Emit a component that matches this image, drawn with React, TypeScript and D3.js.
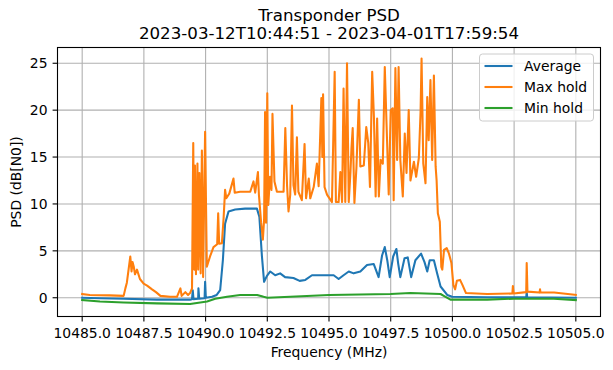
import * as d3 from 'd3'

// Frequency (MHz) / PSD (dB[N0]) pairs
const avgPoints: [number, number][] = [
  [10485.0, 0.0], [10485.72, -0.05], [10486.68, -0.1], [10488.03, -0.2], [10489.37, -0.2],
  [10489.45, -0.15], [10489.48, 0.8], [10489.51, -0.15], [10489.7, -0.1], [10489.71, 1.0],
  [10489.74, -0.1], [10489.96, -0.05], [10489.98, 1.7], [10490.01, 0.0], [10490.26, 0.1],
  [10490.45, 0.3], [10490.59, 0.8], [10490.7, 4.0], [10490.79, 7.9], [10490.93, 9.2],
  [10491.2, 9.4], [10491.6, 9.5], [10492.08, 9.5], [10492.18, 8.6], [10492.28, 4.5],
  [10492.37, 1.7], [10492.48, 2.3], [10492.62, 2.8], [10492.82, 2.4], [10493.02, 2.6],
  [10493.22, 2.2], [10493.56, 2.1], [10493.81, 1.8], [10494.04, 1.9], [10494.31, 2.4],
  [10494.92, 2.4], [10495.19, 2.4], [10495.39, 2.0], [10495.59, 2.4], [10495.8, 2.8],
  [10496.0, 2.6], [10496.27, 2.8], [10496.54, 3.5], [10496.81, 3.6], [10497.01, 2.2],
  [10497.15, 4.5], [10497.26, 5.4], [10497.36, 4.0], [10497.46, 2.2], [10497.6, 4.4],
  [10497.73, 5.2], [10497.8, 3.7], [10497.89, 2.2], [10498.06, 4.2], [10498.19, 4.3],
  [10498.33, 2.2], [10498.5, 4.0], [10498.73, 4.7], [10498.87, 3.8], [10498.98, 2.8],
  [10499.08, 4.0], [10499.25, 4.0], [10499.38, 2.6], [10499.52, 1.2], [10499.79, 0.3],
  [10499.99, 0.1], [10501.41, 0.05], [10502.99, 0.05], [10503.01, 0.6], [10503.03, 0.05],
  [10505.0, 0.0],
]

const maxPoints: [number, number][] = [
  [10485.0, 0.4], [10485.31, 0.3], [10486.12, 0.25], [10486.68, 0.2], [10486.75, 1.0],
  [10486.81, 1.6], [10486.95, 4.4], [10487.0, 2.8], [10487.04, 3.8], [10487.09, 3.3],
  [10487.14, 2.5], [10487.22, 3.0], [10487.34, 2.0], [10487.49, 1.5], [10487.63, 1.3],
  [10487.83, 0.9], [10487.99, 0.6], [10488.17, 0.2], [10488.56, 0.1], [10488.84, 0.1],
  [10488.98, 1.0], [10489.03, 0.2], [10489.18, 0.6], [10489.29, 0.3], [10489.37, 0.5],
  [10489.45, 1.0], [10489.5, 16.5], [10489.54, 3.0], [10489.57, 14.1], [10489.61, 2.5],
  [10489.67, 14.3], [10489.7, 3.0], [10489.75, 13.3], [10489.8, 2.6], [10489.85, 15.7],
  [10489.9, 2.2], [10489.98, 17.7], [10490.05, 3.3], [10490.18, 4.4], [10490.32, 5.4],
  [10490.47, 5.7], [10490.51, 9.0], [10490.55, 5.75], [10490.66, 5.8], [10490.73, 8.5],
  [10490.79, 11.5], [10490.84, 10.6],
  [10490.91, 10.9], [10490.96, 11.1], [10491.13, 12.7], [10491.18, 11.2], [10491.4, 11.3],
  [10491.81, 11.3], [10491.94, 12.4], [10492.01, 11.2], [10492.12, 13.4], [10492.16, 11.0],
  [10492.25, 8.0], [10492.32, 6.2], [10492.37, 8.3], [10492.41, 19.8], [10492.45, 8.0],
  [10492.5, 21.8], [10492.54, 9.9], [10492.61, 12.9], [10492.67, 11.5], [10492.71, 19.6],
  [10492.79, 12.4], [10492.89, 11.3], [10493.16, 11.3], [10493.23, 18.1], [10493.3, 12.0],
  [10493.36, 9.2], [10493.43, 11.0], [10493.5, 20.5], [10493.56, 12.0], [10493.63, 11.0],
  [10493.7, 17.1], [10493.76, 11.3], [10493.9, 10.4], [10494.01, 16.4], [10494.07, 10.6],
  [10494.18, 12.7], [10494.24, 10.6], [10494.38, 11.8], [10494.51, 14.3], [10494.58, 11.9],
  [10494.69, 21.3], [10494.73, 15.0], [10494.76, 21.7], [10494.82, 11.8], [10494.92, 11.0],
  [10495.12, 10.2], [10495.23, 24.1], [10495.28, 10.2], [10495.39, 10.2], [10495.46, 13.4],
  [10495.53, 10.2], [10495.59, 22.3], [10495.66, 10.2], [10495.73, 25.0], [10495.8, 10.2],
  [10495.87, 13.4], [10495.91, 15.9], [10495.96, 18.1], [10496.03, 10.1], [10496.11, 13.8],
  [10496.21, 21.1], [10496.27, 14.0], [10496.41, 14.1], [10496.51, 18.2], [10496.59, 16.5],
  [10496.66, 11.8], [10496.75, 24.1], [10496.82, 19.3], [10496.89, 10.8], [10496.95, 19.1],
  [10497.02, 10.8], [10497.09, 14.7], [10497.18, 14.3], [10497.26, 24.6], [10497.36, 16.1],
  [10497.42, 11.0], [10497.5, 20.0], [10497.58, 20.2], [10497.62, 10.4], [10497.69, 24.5],
  [10497.76, 14.7], [10497.82, 24.6], [10497.89, 14.7], [10497.99, 10.8], [10498.07, 17.5],
  [10498.14, 13.3], [10498.23, 20.0], [10498.3, 12.5], [10498.44, 14.5], [10498.53, 12.9],
  [10498.64, 14.9], [10498.71, 19.8], [10498.75, 25.5], [10498.82, 14.3], [10498.91, 12.2],
  [10498.98, 21.4], [10499.04, 16.8], [10499.11, 23.2], [10499.18, 14.7], [10499.25, 23.7],
  [10499.32, 14.0], [10499.36, 12.5], [10499.41, 9.0], [10499.49, 8.1], [10499.55, 3.3],
  [10499.59, 3.0], [10499.66, 5.1], [10499.77, 5.3], [10499.86, 4.7], [10499.96, 3.7],
  [10500.04, 1.35], [10500.11, 0.9], [10500.18, 1.8], [10500.31, 1.9], [10500.41, 1.35],
  [10500.55, 0.5], [10501.41, 0.4], [10502.43, 0.45], [10502.45, 1.25], [10502.48, 0.45],
  [10502.99, 0.6], [10503.01, 3.7], [10503.04, 0.65], [10503.53, 0.55], [10503.55, 0.9],
  [10503.57, 0.55], [10504.12, 0.55], [10505.0, 0.3],
]

const minPoints: [number, number][] = [
  [10485.0, -0.25], [10485.72, -0.4], [10486.68, -0.5], [10488.03, -0.6], [10489.37, -0.67],
  [10490.06, -0.4], [10490.39, -0.1], [10490.87, 0.1], [10491.4, 0.3], [10492.09, 0.3],
  [10492.35, 0.1], [10492.5, 0.0], [10493.43, 0.1], [10495.0, 0.3], [10497.49, 0.4],
  [10498.3, 0.5], [10499.52, 0.4], [10499.65, 0.2], [10499.92, -0.2], [10501.41, -0.2],
  [10502.49, -0.1], [10504.11, -0.1], [10505.0, -0.25],
]

const xTicks = [10485, 10487.5, 10490, 10492.5, 10495, 10497.5, 10500, 10502.5, 10505]
const yTicks = [0, 5, 10, 15, 20, 25]

const series = [
  { name: 'Average', color: '#1f77b4', points: avgPoints },
  { name: 'Max hold', color: '#ff7f0e', points: maxPoints },
  { name: 'Min hold', color: '#2ca02c', points: minPoints },
]

const W = 613
const H = 370
const L = 57.5, R = 600.5, T = 47.5, B = 316.5
const FONT = 'DejaVu Sans, sans-serif'

export default function App() {
  const x = d3.scaleLinear().domain([10484, 10506]).range([L, R])
  const y = d3.scaleLinear().domain([-2.0, 26.68]).range([B, T])
  const line = d3.line<[number, number]>().x(d => x(d[0])).y(d => y(d[1]))

  const cx = (L + R) / 2
  const lgX = 479.5, lgY = 54, lgW = 114, lgH = 67

  return (
    <svg width={W} height={H} style={{ position: 'absolute', left: 0, top: 0, background: '#fff' }}
      fontFamily={FONT}>
      <rect x={0} y={0} width={W} height={H} fill="#fff" />
      {/* grid */}
      {xTicks.map(t => (
        <line key={'gx' + t} x1={x(t)} x2={x(t)} y1={T} y2={B} stroke="#b0b0b0" strokeWidth={1.1} />
      ))}
      {yTicks.map(t => (
        <line key={'gy' + t} x1={L} x2={R} y1={y(t)} y2={y(t)} stroke="#b0b0b0" strokeWidth={1.1} />
      ))}

      <defs>
        <clipPath id="plotclip"><rect x={L} y={T} width={R - L} height={B - T} /></clipPath>
      </defs>
      <g clipPath="url(#plotclip)">
        {series.map(s => (
          <path key={s.name} d={line(s.points) ?? ''} fill="none" stroke={s.color}
            strokeWidth={2.08} strokeLinejoin="round" strokeLinecap="square" />
        ))}
      </g>

      {/* spines */}
      <rect x={L} y={T} width={R - L} height={B - T} fill="none" stroke="#000" strokeWidth={1.1} />

      {/* x ticks */}
      {xTicks.map(t => (
        <g key={'xt' + t}>
          <line x1={x(t)} x2={x(t)} y1={B} y2={B + 4.9} stroke="#000" strokeWidth={1.1} />
          <text x={x(t)} y={B + 21.5} textAnchor="middle" fontSize={13.9} fill="#000">{t.toFixed(1)}</text>
        </g>
      ))}
      {/* y ticks */}
      {yTicks.map(t => (
        <g key={'yt' + t}>
          <line x1={L - 4.9} x2={L} y1={y(t)} y2={y(t)} stroke="#000" strokeWidth={1.1} />
          <text x={L - 10} y={y(t)} dy="0.36em" textAnchor="end" fontSize={13.9} fill="#000">{t}</text>
        </g>
      ))}

      {/* labels */}
      <text x={cx} y={357} textAnchor="middle" fontSize={13.9} fill="#000">Frequency (MHz)</text>
      <text transform={`translate(21,${(T + B) / 2}) rotate(-90)`} textAnchor="middle" fontSize={13.9} fill="#000">
        PSD (dB[N0])
      </text>
      <text x={cx} y={21} textAnchor="middle" fontSize={16.67} fill="#000">Transponder PSD</text>
      <text x={cx} y={38.5} textAnchor="middle" fontSize={16.67} fill="#000">
        2023-03-12T10:44:51 - 2023-04-01T17:59:54
      </text>

      {/* legend */}
      <rect x={lgX} y={lgY} width={lgW} height={lgH} rx={3} fill="#fff" fillOpacity={0.8}
        stroke="#cccccc" strokeWidth={1} />
      {series.map((s, i) => {
        const ly = lgY + 12 + i * 21
        return (
          <g key={'lg' + s.name}>
            <line x1={lgX + 5} x2={lgX + 33} y1={ly} y2={ly} stroke={s.color} strokeWidth={2.08} />
            <text x={lgX + 44.5} y={ly} dy="0.36em" fontSize={13.9} fill="#000">{s.name}</text>
          </g>
        )
      })}
    </svg>
  )
}
